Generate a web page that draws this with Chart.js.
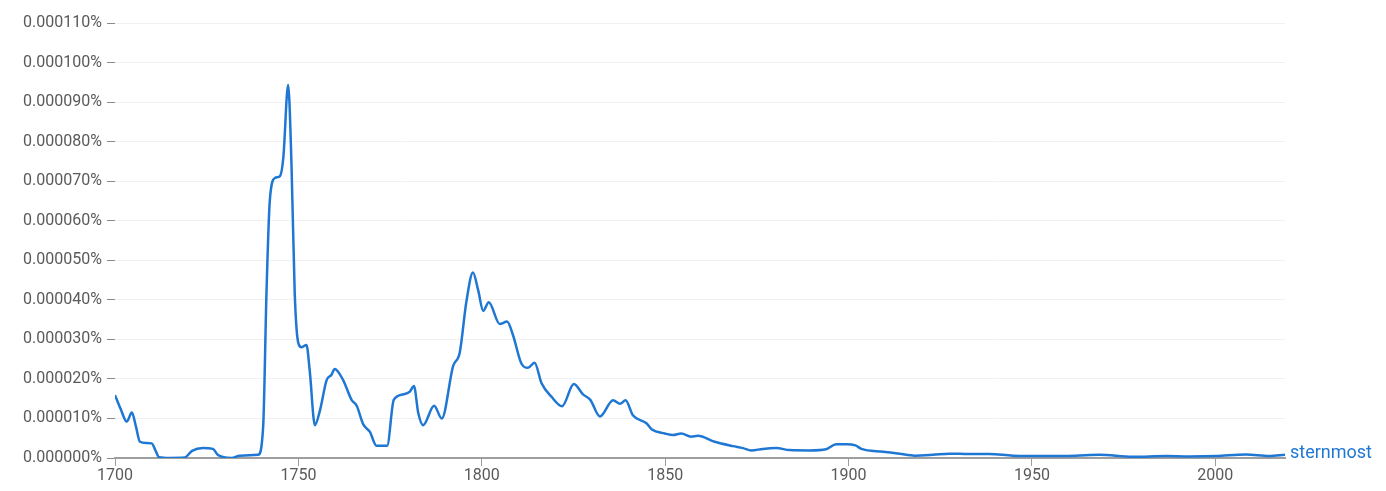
<!DOCTYPE html>
<html>
<head>
<meta charset="utf-8">
<script src="https://cdn.jsdelivr.net/npm/chart.js@4"></script>
<style>
  html, body { margin: 0; padding: 0; background: #fff; }
  #wrap { width: 1386px; height: 491px; }
</style>
</head>
<body>
<div id="wrap"><canvas id="chart" width="1386" height="491"></canvas></div>
<script>
// Data (values in units of 0.000001 %)
const term = 'sternmost';
const years = [
  1700, 1701.5, 1703.2, 1704.6, 1705.7, 1706.8, 1708.5, 1710, 1711, 1712, 1715, 1719, 1721, 1724, 1726.7, 1728, 1731.8, 1734, 1739,
  1740.4, 1741.3, 1742.2, 1743.6, 1745, 1745.9, 1747.2, 1748.1, 1749, 1750, 1750.9, 1752.2, 1753.1, 1754.5, 1755.9, 1757.7, 1759,
  1759.9, 1762.2, 1764.5, 1765.9, 1767.7, 1769.5, 1771.3, 1774.2, 1776, 1778.6, 1780.4, 1781.5, 1782.7, 1784, 1787, 1789.1,
  1792.2, 1794, 1795.8, 1797.6, 1799, 1800.4, 1801.9, 1804.9, 1806.9, 1808.5, 1810.8, 1812.6, 1814.4, 1816.3, 1819, 1821.9,
  1825.1, 1827.6, 1829.6, 1832.2, 1835.8, 1837.7, 1839.2, 1841.2, 1844.9, 1846.4, 1849.9, 1852.1, 1854.4, 1857.1, 1858.9,
  1863.5, 1868.5, 1871.2, 1873.5, 1876.6, 1880.3, 1883.9, 1889.4, 1893.9, 1896.6, 1899.4, 1901.9, 1903.5, 1909.4, 1913.9,
  1918, 1923, 1927.5, 1933, 1938.4, 1944.8, 1954.8, 1962, 1968.4, 1977.4, 1986.6, 1992.9, 2000.2, 2008.4, 2014.7, 2019
];
const values = [
  15.9, 12.5, 9.2, 11.5, 8.0, 4.1, 3.8, 3.7, 2.0, 0.2, 0.0, 0.1, 1.8, 2.5, 2.3, 0.8, 0.0, 0.6, 0.8,
  8.0, 41.7, 65.0, 70.8, 71.3, 76.0, 94.3, 75.0, 41.7, 29.0, 28.0, 28.6, 22.0, 8.3, 12.1, 19.7, 21.0,
  22.5, 19.7, 14.7, 13.2, 8.5, 6.6, 3.1, 3.1, 14.7, 16.1, 16.8, 18.2, 11.3, 8.3, 13.2, 10.0,
  23.3, 26.7, 39.5, 46.9, 42.5, 37.2, 39.4, 33.9, 34.5, 31.1, 23.9, 22.8, 24.1, 18.9, 15.5, 13.1,
  18.7, 16.1, 14.7, 10.5, 14.6, 13.7, 14.6, 10.8, 8.8, 7.2, 6.2, 5.8, 6.2, 5.4, 5.6,
  4.1, 3.0, 2.5, 1.9, 2.3, 2.5, 2.0, 1.9, 2.2, 3.5, 3.5, 3.2, 2.3, 1.6, 1.1,
  0.6, 0.8, 1.1, 1.0, 1.0, 0.6, 0.5, 0.6, 0.8, 0.3, 0.5, 0.4, 0.5, 0.9, 0.5, 0.8
];
const xTicks = [1700, 1750, 1800, 1850, 1900, 1950, 2000];
const yTicks = [0, 10, 20, 30, 40, 50, 60, 70, 80, 90, 100, 110];
const yTickLabels = ['0.000000%', '0.000010%', '0.000020%', '0.000030%', '0.000040%', '0.000050%',
  '0.000060%', '0.000070%', '0.000080%', '0.000090%', '0.000100%', '0.000110%'];

const lineColor = '#1f77d4';
const tickFontColor = '#5a5a5a';

// label at the end of the line
const endLabel = {
  id: 'endLabel',
  afterDatasetsDraw(chart) {
    const meta = chart.getDatasetMeta(0);
    const last = meta.data[meta.data.length - 1];
    const ctx = chart.ctx;
    ctx.save();
    ctx.font = '18px Roboto';
    ctx.fillStyle = lineColor;
    ctx.textBaseline = 'middle';
    ctx.textAlign = 'left';
    ctx.fillText(term, last.x + 5, last.y - 1);
    ctx.restore();
  }
};

new Chart(document.getElementById('chart'), {
  type: 'line',
  data: {
    datasets: [{
      label: term,
      data: years.map((y, i) => ({ x: y, y: values[i] })),
      borderColor: lineColor,
      borderWidth: 2.5,
      pointRadius: 0,
      fill: false,
      cubicInterpolationMode: 'monotone'
    }]
  },
  options: {
    responsive: false,
    animation: false,
    layout: { padding: { top: 23, right: 101, left: 0, bottom: 0 } },
    plugins: { legend: { display: false }, tooltip: { enabled: false } },
    scales: {
      x: {
        type: 'linear',
        min: 1700, max: 2019,
        afterBuildTicks: axis => { axis.ticks = xTicks.map(v => ({ value: v })); },
        afterFit: axis => { axis.height = 33; },
        ticks: { color: tickFontColor, font: { family: 'Roboto', size: 16 }, padding: 0, maxRotation: 0, callback: v => String(v) },
        grid: { drawOnChartArea: false, drawTicks: true, tickLength: 8, tickColor: '#9e9e9e', lineWidth: 1 },
        border: { display: true, color: '#9e9e9e', width: 2 }
      },
      y: {
        min: 0, max: 110,
        afterBuildTicks: axis => { axis.ticks = yTicks.map(v => ({ value: v })); },
        afterFit: axis => { axis.width = 115; },
        ticks: {
          color: tickFontColor, font: { family: 'Roboto', size: 16 }, padding: 5,
          callback: (v) => yTickLabels[yTicks.indexOf(v)]
        },
        grid: { color: '#f1f1f1', lineWidth: 1, drawTicks: true, tickLength: 8, tickColor: '#8a8a8a' },
        border: { display: false }
      }
    }
  },
  plugins: [endLabel]
});
</script>
</body>
</html>
